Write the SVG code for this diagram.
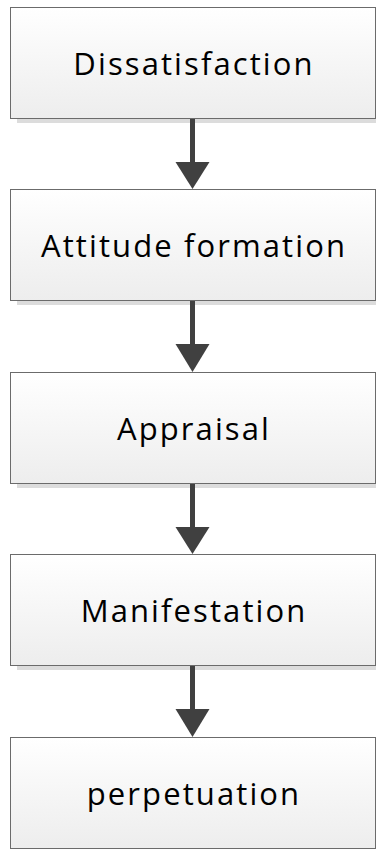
<svg xmlns="http://www.w3.org/2000/svg" width="376" height="849" viewBox="0 0 376 849">
<defs>
<linearGradient id="g" x1="0" y1="0" x2="0" y2="1">
<stop offset="0" stop-color="#ffffff"/>
<stop offset="1" stop-color="#ededed"/>
</linearGradient>
<style>
.box{fill:url(#g);stroke:#6b6b6b;stroke-width:1}
.sh{fill:#dcdcdc}
.t{font-family:"Open Sans","Noto Sans",sans-serif;font-size:31px;letter-spacing:2.1px;fill:#000;text-anchor:middle}
.shaft{stroke:#404040;stroke-width:5;fill:none}
.head{fill:#404040}
</style>
</defs>
<rect width="376" height="849" fill="#fff"/>
<g id="n1"><rect class="sh" x="17" y="12" width="365" height="111"/><rect class="box" x="10.5" y="7.5" width="365" height="111"/><text class="t" x="194" y="75">Dissatisfaction</text></g>
<g id="n2"><rect class="sh" x="17" y="194" width="365" height="111"/><rect class="box" x="10.5" y="189.5" width="365" height="111"/><text class="t" x="194" y="257">Attitude formation</text></g>
<g id="n3"><rect class="sh" x="17" y="377" width="365" height="111"/><rect class="box" x="10.5" y="372.5" width="365" height="111"/><text class="t" x="194" y="440">Appraisal</text></g>
<g id="n4"><rect class="sh" x="17" y="559" width="365" height="111"/><rect class="box" x="10.5" y="554.5" width="365" height="111"/><text class="t" x="194" y="622">Manifestation</text></g>
<g id="n5"><rect class="sh" x="17" y="742" width="365" height="111"/><rect class="box" x="10.5" y="737.5" width="365" height="111"/><text class="t" x="194" y="805">perpetuation</text></g>
<g id="connectors">
<line class="shaft" x1="192.5" y1="119" x2="192.5" y2="165"/><polygon class="head" points="175.5,162 209.5,162 192.5,189"/>
<line class="shaft" x1="192.5" y1="301" x2="192.5" y2="347"/><polygon class="head" points="175.5,344 209.5,344 192.5,372"/>
<line class="shaft" x1="192.5" y1="484" x2="192.5" y2="530"/><polygon class="head" points="175.5,527 209.5,527 192.5,554"/>
<line class="shaft" x1="192.5" y1="666" x2="192.5" y2="712"/><polygon class="head" points="175.5,709 209.5,709 192.5,737"/>
</g>
</svg>
